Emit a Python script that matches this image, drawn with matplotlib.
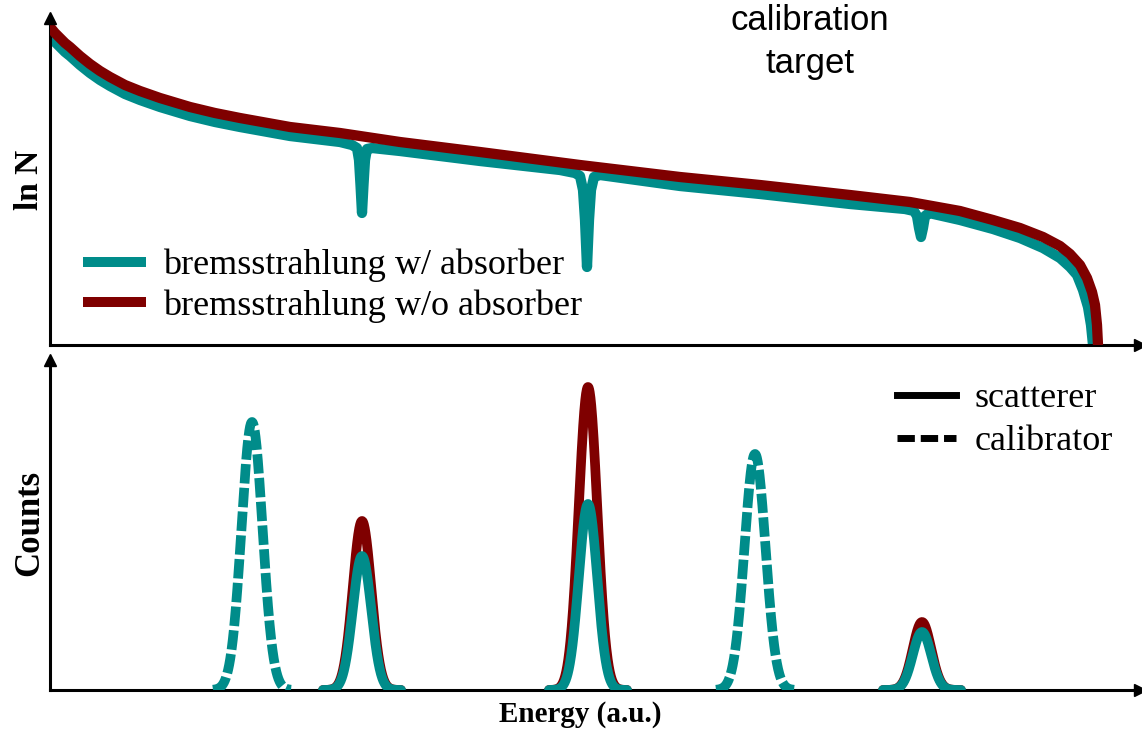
import numpy as np
import matplotlib
matplotlib.use("Agg")
import matplotlib.pyplot as plt
from matplotlib.lines import Line2D

# ---------------- data (arbitrary units) ----------------
# bremsstrahlung without absorber: (energy, ln N)
red_E = [0.0, 0.5, 1.0, 1.5, 2.0, 3.0, 4.0, 5.0, 6.0, 7.5, 9.0, 11.0, 14.0,
         16.5, 19.0, 24.0, 29.0, 35.0, 43.0, 53.0, 63.0,
         71.0, 80.0, 86.0, 91.0, 94.3, 97.0, 99.3, 101.0, 102.0, 103.0, 103.7,
         104.2, 104.5, 104.7, 104.8]
red_L = [318, 312, 307, 302, 298, 289, 281, 274, 268, 260, 254, 247, 238,
         232, 227, 218, 212, 203, 193, 180, 168,
         160, 150, 143, 134, 125, 117, 108, 99, 91, 80, 67,
         53, 40, 20, 0]

# bremsstrahlung with absorber (absorption edges included)
cyan_E = [0.0, 0.5, 1.0, 1.5, 2.0, 3.0, 4.0, 5.0, 6.0, 7.5, 9.0, 11.0, 14.0,
          16.5, 19.0, 24.0, 29.0,
          30.2, 30.7, 30.9, 31.05, 31.2, 31.35, 31.5, 31.7, 32.2,
          35.0, 43.0,
          51.0, 52.5, 53.0, 53.3, 53.5, 53.7, 53.9, 54.1, 54.4, 55.0,
          63.0, 71.0, 80.0,
          85.5, 86.4, 86.7, 86.9, 87.1, 87.3, 87.5, 87.9,
          91.0, 94.3, 97.0, 99.3, 101.0, 102.0, 102.7, 103.3, 103.8, 104.1, 104.3]
cyan_L = [309, 303, 298, 293, 289, 280, 272, 265, 259, 251, 245, 238, 229,
          223, 218, 209, 203,
          200, 197, 185, 160, 132, 160, 185, 196, 197,
          194, 184,
          175, 172, 169, 155, 125, 78, 125, 155, 168, 170,
          159, 151, 141,
          136, 134, 129, 117, 108, 117, 129, 132,
          125, 116, 107, 97, 87, 78, 70, 55, 38, 20, 0]

# peaks in the count spectrum: centre, height, width
scat_center = [31.2, 53.8, 87.2]
scat_height_wo = [169, 303, 68]   # without absorber (red)
scat_height_w = [134, 186, 58]    # with absorber (teal)
scat_width = [0.92, 0.92, 0.92]

cal_center = [20.2, 70.5]
cal_height = [268, 236]
cal_width = [1.05, 1.05]

TEAL = "#008c8a"
RED = "#7f0000"

# ---------------- figure ----------------
W, H = 1142, 733
fig = plt.figure(figsize=(W / 100, H / 100), dpi=100)

def ax_rect(x0, y_top, x1, y_bot):
    return [x0 / W, 1 - y_bot / H, (x1 - x0) / W, (y_bot - y_top) / H]

ax1 = fig.add_axes(ax_rect(50, 18, 1140, 345))
ax2 = fig.add_axes(ax_rect(50, 360, 1140, 690))

for ax in (ax1, ax2):
    ax.set_xlim(0, 109)
    for s in ("top", "right"):
        ax.spines[s].set_visible(False)
    for s in ("left", "bottom"):
        ax.spines[s].set_linewidth(2.2)
        ax.spines[s].set_color("black")
    ax.set_xticks([])
    ax.set_yticks([])
    ax.plot([0], [1], marker="^", color="black", markersize=9,
            transform=ax.transAxes, clip_on=False, zorder=10)
    ax.plot([1], [0], marker=">", color="black", markersize=9,
            transform=ax.transAxes, clip_on=False, zorder=10)

ax1.set_ylim(0, 327)
ax2.set_ylim(0, 330)

# top panel
ax1.plot(cyan_E, cyan_L, color=TEAL, lw=7.4, solid_joinstyle="round",
         solid_capstyle="round", zorder=2)
ax1.plot(red_E, red_L, color=RED, lw=7.4, solid_joinstyle="round",
         solid_capstyle="round", zorder=3)

serif = ["Liberation Serif", "DejaVu Serif"]
leg1 = ax1.legend(
    handles=[Line2D([], [], color=TEAL, lw=7.2),
             Line2D([], [], color=RED, lw=7.2)],
    labels=["bremsstrahlung w/ absorber", "bremsstrahlung w/o absorber"],
    loc="upper left", bbox_to_anchor=(88 / W, 1 - 249 / H),
    bbox_transform=fig.transFigure, frameon=False,
    prop={"family": serif, "size": 26}, handlelength=1.47,
    handletextpad=0.61, labelspacing=0.19, borderpad=0, borderaxespad=0)

fig.text(810 / W, 1 - 21 / H, "calibration", ha="center", va="center",
         family="Liberation Sans", fontsize=25)
fig.text(810 / W, 1 - 63 / H, "target", ha="center", va="center",
         family="Liberation Sans", fontsize=25)

fig.text(30 / W, 1 - 180 / H, "ln N", rotation=90, ha="center", va="center",
         family=serif, fontweight="bold", fontsize=24)
fig.text(30 / W, 1 - 523 / H, "Counts", rotation=90, ha="center", va="center",
         family=serif, fontweight="bold", fontsize=25)
fig.text(580 / W, 1 - 715 / H, "Energy (a.u.)", ha="center", va="center",
         family=serif, fontweight="bold", fontsize=21)

# bottom panel
def gauss(c, h, s):
    x = np.linspace(c - 3.9, c + 3.9, 300)
    return x, h * np.exp(-0.5 * ((x - c) / s) ** 2)

for c, h, s in zip(scat_center, scat_height_wo, scat_width):
    x, y = gauss(c, h, s)
    ax2.plot(x, y, color=RED, lw=7, solid_capstyle="round", zorder=2)
for c, h, s in zip(scat_center, scat_height_w, scat_width):
    x, y = gauss(c, h, s)
    ax2.plot(x, y, color=TEAL, lw=7, solid_capstyle="round", zorder=3)
for c, h, s in zip(cal_center, cal_height, cal_width):
    x, y = gauss(c, h, s)
    ax2.plot(x, y, color=TEAL, lw=7, dashes=(2.0, 0.45), dash_capstyle="butt",
             zorder=3)

leg2 = ax2.legend(
    handles=[Line2D([], [], color="black", lw=5),
             Line2D([], [], color="black", lw=5, dashes=(2.5, 0.85))],
    labels=["scatterer", "calibrator"],
    loc="upper left", bbox_to_anchor=(896.5 / W, 1 - 382 / H),
    bbox_transform=fig.transFigure, frameon=False,
    prop={"family": serif, "size": 26}, handlelength=1.66,
    handletextpad=0.51, labelspacing=0.27, borderpad=0, borderaxespad=0)

fig.savefig("out.png", dpi=100)
